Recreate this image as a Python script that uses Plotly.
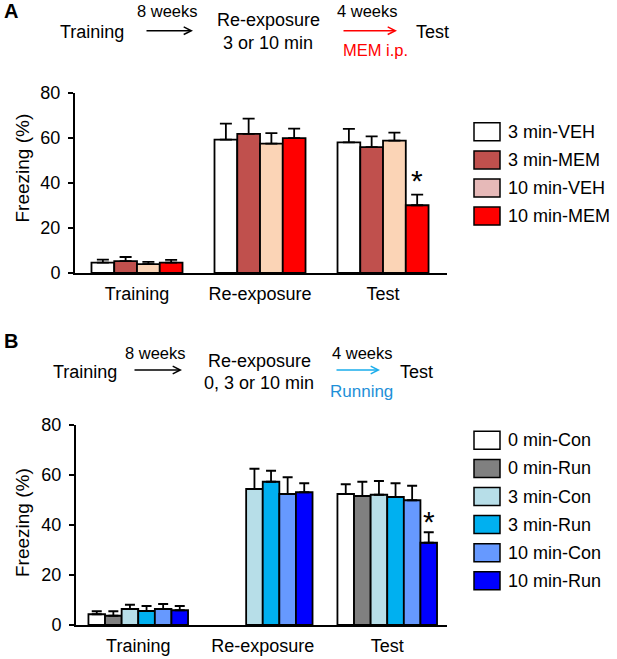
import plotly.graph_objects as go
from plotly.subplots import make_subplots

# Freezing (%), mean and upper SEM
phases = ['Training', 'Re-exposure', 'Test']

groups_a = ['3 min-VEH', '3 min-MEM', '10 min-VEH', '10 min-MEM']
colors_a = ['#FFFFFF', '#C0504D', '#FBD4B6', '#FF0000']
legend_colors_a = ['#FFFFFF', '#C0504D', '#E6B9B8', '#FF0000']
freezing_a = [
    [4.6, 59.3, 58.1],
    [5.3, 61.8, 55.9],
    [3.9, 57.5, 58.8],
    [4.6, 59.9, 30.1],
]
sem_a = [
    [1.3, 7.1, 6.0],
    [1.8, 6.8, 4.8],
    [1.0, 4.7, 3.6],
    [1.2, 4.3, 4.7],
]

groups_b = ['0 min-Con', '0 min-Run', '3 min-Con', '3 min-Run', '10 min-Con', '10 min-Run']
colors_b = ['#FFFFFF', '#808080', '#B7DEE8', '#00B0F0', '#6699FF', '#0000FF']
freezing_b = [
    [4.3, None, 52.4],
    [3.7, None, 51.6],
    [6.4, 54.4, 52.1],
    [5.6, 57.3, 51.2],
    [6.4, 52.4, 49.9],
    [5.9, 53.1, 32.9],
]
sem_b = [
    [1.2, None, 3.9],
    [1.8, None, 5.7],
    [1.7, 8.1, 5.5],
    [2.0, 4.4, 5.5],
    [2.0, 6.7, 5.8],
    [1.7, 3.6, 4.2],
]

# significance marks: (phase index, group index, y)
star_a = (2, 3, 41.0)
star_b = (2, 5, 41.3)

W, H = 617, 659
FONT = 'Liberation Sans, Arial, sans-serif'


def px(x):
    return x / W


def py(y):
    return 1 - y / H


fig = make_subplots(rows=2, cols=1)


def add_bars(groups, colors, values, errors, row, group_w, cap):
    n = len(groups)
    bw = group_w / n
    for i in range(n):
        fig.add_trace(
            go.Bar(
                x=phases,
                y=values[i],
                name=groups[i],
                width=bw,
                offset=-group_w / 2 + i * bw,
                marker=dict(color=colors[i], line=dict(color='black', width=1.8)),
                error_y=dict(type='data', symmetric=False, array=errors[i],
                             arrayminus=[0] * len(phases), color='black',
                             thickness=1.8, width=cap),
                showlegend=False,
                hoverinfo='skip',
            ),
            row=row, col=1
        )
    return bw


bw_a = add_bars(groups_a, colors_a, freezing_a, sem_a, 1, 0.74, 6)
bw_b = add_bars(groups_b, colors_b, freezing_b, sem_b, 2, 0.80, 5)

axis_y = dict(range=[0, 80], dtick=20, showgrid=False, zeroline=False, showline=True,
              linecolor='black', linewidth=2, ticks='outside', ticklen=5, tickwidth=1.5,
              tickcolor='black', automargin=False, ticklabelstandoff=4,
              tickfont=dict(size=18, family=FONT, color='black'))
axis_x = dict(showgrid=False, zeroline=False, showline=True, linecolor='black', linewidth=2,
              ticks='', automargin=False, ticklabelstandoff=3,
              tickfont=dict(size=18, family=FONT, color='black'))

fig.update_layout(
    xaxis=dict(axis_x, domain=[px(75), px(447)], range=[-0.504, 2.52]),
    yaxis=dict(axis_y, domain=[py(273), py(93)]),
    xaxis2=dict(axis_x, domain=[px(76), px(447)], range=[-0.5, 2.48]),
    yaxis2=dict(axis_y, domain=[py(625), py(425)]),
)

annotations = []


def text(t, x, y, size=18, color='black', bold=False, anchor='center'):
    annotations.append(dict(
        text='<b>%s</b>' % t if bold else t, x=px(x), y=py(y), xref='paper', yref='paper',
        xanchor=anchor, yanchor='middle', showarrow=False,
        font=dict(size=size, family=FONT, color=color)))


def arrow(x0, x1, y, color='black'):
    annotations.append(dict(
        text='', x=px(x1), y=py(y), xref='paper', yref='paper', ax=x0 - x1, ay=0,
        showarrow=True, arrowhead=5, arrowsize=1, arrowwidth=1.5, arrowcolor=color,
        standoff=0, startstandoff=0))


# panel A scheme
text('A', 11, 11, size=20, bold=True)
text('Training', 92, 31.5)
arrow(145, 193, 30.7)
text('8 weeks', 167.5, 11.5, size=16.5)
text('Re-exposure', 268, 20.5)
text('3 or 10 min', 268, 42.5)
text('4 weeks', 367.5, 11.5, size=16.5)
arrow(342, 397, 30.7, color='#FF0000')
text('MEM i.p.', 375, 50, size=16.5, color='#FF0000')
text('Test', 432, 31.5)

# panel B scheme
text('B', 11, 340.5, size=20, bold=True)
text('Training', 85, 371.5)
arrow(133, 182, 370)
text('8 weeks', 155.5, 352.5, size=16.5)
text('Re-exposure', 259, 361)
text('0, 3 or 10 min', 259, 383)
text('4 weeks', 362.5, 352.5, size=16.5)
arrow(335, 380, 370, color='#1AADEB')
text('Running', 361, 391.5, size=17, color='#1E8FD8')
text('Test', 416, 371.5)

# y titles
for yc in [168, 522.5]:
    annotations.append(dict(
        text='Freezing (%)', x=px(22.5), y=py(yc), xref='paper', yref='paper',
        xanchor='center', yanchor='middle', textangle=-90, showarrow=False,
        font=dict(size=19, family=FONT, color='black')))

# asterisks
for (k, g, ys), n, bw, xr, yr in [(star_a, 4, bw_a, 'x', 'y'), (star_b, 6, bw_b, 'x2', 'y2')]:
    annotations.append(dict(
        text='*', x=k - n * bw / 2 + (g + 0.5) * bw, y=ys, xref=xr, yref=yr,
        xanchor='center', yanchor='middle', showarrow=False,
        font=dict(size=30, family=FONT, color='black')))

# legends drawn as boxes and labels
shapes = []
for names, cols, y0 in [(groups_a, legend_colors_a, 131.8), (groups_b, colors_b, 440.3)]:
    for i, (name, col) in enumerate(zip(names, cols)):
        yc = y0 + i * 28.1
        shapes.append(dict(type='rect', xref='paper', yref='paper',
                           x0=px(474), x1=px(500), y0=py(yc + 9), y1=py(yc - 9),
                           fillcolor=col, line=dict(color='black', width=1.5)))
        text(name, 506, yc, anchor='left')

fig.update_layout(
    width=W, height=H,
    margin=dict(l=0, r=0, t=0, b=0, autoexpand=False),
    paper_bgcolor='white', plot_bgcolor='white',
    font=dict(family=FONT, color='black'),
    annotations=annotations, shapes=shapes,
    hovermode=False,
)

page_css = ("var s = document.documentElement.style, b = document.body.style;"
            "s.margin = '0px'; s.padding = '0px'; s.overflow = 'hidden';"
            "b.margin = '0px'; b.padding = '0px'; b.overflow = 'hidden';")
fig.write_html('out.html', config={'displayModeBar': False}, post_script=page_css)
